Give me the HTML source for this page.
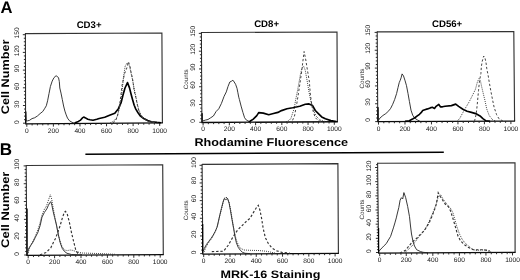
<!DOCTYPE html>
<html><head><meta charset="utf-8"><style>
html,body{margin:0;padding:0;background:#fff;}
body{width:520px;height:280px;overflow:hidden;}
svg{display:block;filter:blur(0.3px);}
text{font-family:"Liberation Sans", sans-serif;fill:#000;text-rendering:geometricPrecision;}
.big{font-size:16.6px;font-weight:bold;}
.ttl{font-size:9.6px;font-weight:bold;}
.ax{font-size:10.5px;font-weight:bold;}
.tl{font-size:6.6px;fill:#111;}
.ct{font-size:6.2px;fill:#222;}
</style></head><body>
<svg width="520" height="280" viewBox="0 0 520 280">
<rect width="520" height="280" fill="#fff"/>
<text x="0.6" y="12.9" class="big">A</text>
<text x="-0.3" y="155" class="big" style="font-size:17px">B</text>
<text x="76.7" y="28.4" class="ttl" textLength="24.8" lengthAdjust="spacingAndGlyphs">CD3+</text>
<text x="254.2" y="26.8" class="ttl" textLength="24.8" lengthAdjust="spacingAndGlyphs">CD8+</text>
<text x="432.0" y="26.5" class="ttl" textLength="30.2" lengthAdjust="spacingAndGlyphs">CD56+</text>
<text transform="translate(9.0,114.2) rotate(-90)" class="ax" style="font-size:11px" textLength="74.7" lengthAdjust="spacingAndGlyphs">Cell Number</text>
<text transform="translate(9.0,247.9) rotate(-90)" class="ax" style="font-size:11px" textLength="76.3" lengthAdjust="spacingAndGlyphs">Cell Number</text>
<text x="194.4" y="145.8" class="ax" style="font-size:11.2px" textLength="153.6" lengthAdjust="spacingAndGlyphs">Rhodamine Fluorescence</text>
<text x="220.5" y="277.8" class="ax" style="font-size:10.8px" textLength="100" lengthAdjust="spacingAndGlyphs">MRK-16 Staining</text>
<path d="M85.4,154.2 L443.8,152.2" stroke="#000" stroke-width="1.6" fill="none"/>
<path d="M25.4,33.6 L161.9,33.05 L162.4,122.9" stroke="#333" stroke-width="1.15" fill="none"/>
<path d="M25.4,33.1 L25.6,123.8" stroke="#2a2a2a" stroke-width="1.05" fill="none"/>
<path d="M25.1,123.8 L162.9,122.9" stroke="#0a0a0a" stroke-width="1.35" fill="none"/>
<path d="M23,123.2H25.6 M23.99,119.66H25.59 M23.98,116.12H25.58 M23.98,112.58H25.58 M23.97,109.04H25.57 M22.96,105.5H25.56 M23.95,101.96H25.55 M23.94,98.42H25.54 M23.94,94.88H25.54 M23.93,91.34H25.53 M22.92,87.8H25.52 M23.91,84.26H25.51 M23.9,80.72H25.5 M23.9,77.18H25.5 M23.89,73.64H25.49 M22.88,70.1H25.48 M23.87,66.56H25.47 M23.87,63.02H25.47 M23.86,59.48H25.46 M23.85,55.94H25.45 M22.84,52.4H25.44 M23.83,48.86H25.43 M23.83,45.32H25.43 M23.82,41.78H25.42 M23.81,38.24H25.41 M22.8,34.7H25.4 M26.8,123.79V126.79 M32.12,123.76V125.46 M37.43,123.72V125.42 M42.75,123.69V125.39 M48.06,123.65V125.35 M53.38,123.62V126.62 M58.7,123.58V125.28 M64.01,123.55V125.25 M69.33,123.51V125.21 M74.64,123.48V125.18 M79.96,123.44V126.44 M85.28,123.41V125.11 M90.59,123.37V125.07 M95.91,123.34V125.04 M101.22,123.3V125 M106.54,123.27V126.27 M111.86,123.23V124.93 M117.17,123.2V124.9 M122.49,123.16V124.86 M127.8,123.13V124.83 M133.12,123.09V126.09 M138.44,123.06V124.76 M143.75,123.02V124.72 M149.07,122.99V124.69 M154.38,122.95V124.65 M159.7,122.92V125.92" stroke="#222" stroke-width="0.95" fill="none"/>
<text x="26.8" y="133.35" class="tl" text-anchor="middle">0</text>
<text x="53.38" y="133.35" class="tl" text-anchor="middle">200</text>
<text x="79.96" y="133.35" class="tl" text-anchor="middle">400</text>
<text x="106.54" y="133.35" class="tl" text-anchor="middle">600</text>
<text x="133.12" y="133.35" class="tl" text-anchor="middle">800</text>
<text x="159.7" y="133.35" class="tl" text-anchor="middle">1000</text>
<text transform="translate(18.55,122.1) rotate(-90)" class="tl" text-anchor="middle">0</text>
<text transform="translate(18.55,104.26) rotate(-90)" class="tl" text-anchor="middle">30</text>
<text transform="translate(18.55,86.42) rotate(-90)" class="tl" text-anchor="middle">60</text>
<text transform="translate(18.55,68.58) rotate(-90)" class="tl" text-anchor="middle">90</text>
<text transform="translate(18.55,50.74) rotate(-90)" class="tl" text-anchor="middle">120</text>
<text transform="translate(18.55,32.9) rotate(-90)" class="tl" text-anchor="middle">150</text>
<path d="M25.8,111.5 L25.8,123.3" stroke="#000" stroke-width="1.2" fill="none"/>
<path d="M25.5,111.5 L26.2,121 L27.6,120.8 L29.4,120.4 L32,118.6 L34.7,117.75 L37.4,116 L40.1,113.6 L42.75,111.5 L44.5,108.8 L46.3,105.8 L47.6,100.8 L49,93.6 L50.4,86.5 L52.2,81.1 L54,77.6 L56.1,75.7 L58.5,77.6 L59.3,81.5 L59.8,88 L61,93.1 L62.3,99.5 L63.6,106 L64.9,111.1 L66.2,114.9 L67.5,118.1 L69.4,120.7 L72,122.3 L74.5,123.2" stroke="#222" stroke-width="0.9" fill="none"/>
<path d="M74.5,122.9 L78.4,121.4 L80.6,120.1 L82.4,117.9 L83.75,117.1 L85.5,117.9 L87.8,119.2 L90,119.8 L93,120.2 L96.8,119.3 L99.2,118.5 L104.7,117.3 L110.2,115.1 L114.8,113.2 L118.4,108.7 L121.2,102.3 L123,95 L125,88 L127.5,82.6 L129.5,87.9 L131.1,94.2 L132.6,99.7 L134.2,105.2 L135.8,109.1 L138.2,113 L140.5,116.2 L143.7,118.5 L147.6,120.6 L151.5,121.7 L157,122.4 L161,122.7" stroke="#000" stroke-width="1.65" fill="none" stroke-linejoin="round"/>
<path d="M113,123 L115.5,121 L117.5,116 L119.5,106 L121.4,91 L122.1,85 L123.6,78.6 L124.3,74.3 L126.4,69.3 L128.5,61.8 L130,66.4 L131,72 L132.4,78 L133.4,84.7 L134.2,91 L135.8,97.3 L137.4,105.2 L138.9,111.4 L141.3,116.2 L144.4,119.3 L148,121 L153,122.5 L158,123.2" stroke="#444" stroke-width="1" fill="none" stroke-dasharray="2.3,2"/>
<path d="M110,123 L114,121 L117,117 L119.5,108 L121.2,98 L122.4,88 L123.5,77 L125.2,66 L127.5,62.5 L129.5,66 L130.8,72 L132.6,80 L134,88 L135.5,95 L137,102.5 L138.6,109 L140.8,114.5 L143.6,118 L148,120.5 L155,122.5" stroke="#333" stroke-width="1" fill="none" stroke-dasharray="0.9,1.1"/>
<path d="M201.4,32.5 L337,32 L337.4,121.75" stroke="#333" stroke-width="1.15" fill="none"/>
<path d="M201.4,32 L201.9,122.5" stroke="#2a2a2a" stroke-width="1.05" fill="none"/>
<path d="M201.4,122.5 L337.9,121.75" stroke="#0a0a0a" stroke-width="1.35" fill="none"/>
<path d="M199.3,122.3H201.9 M200.28,118.74H201.88 M200.26,115.19H201.86 M200.24,111.63H201.84 M200.22,108.08H201.82 M199.2,104.52H201.8 M200.18,100.96H201.78 M200.16,97.41H201.76 M200.14,93.85H201.74 M200.12,90.3H201.72 M199.1,86.74H201.7 M200.08,83.18H201.68 M200.06,79.63H201.66 M200.04,76.07H201.64 M200.02,72.52H201.62 M199,68.96H201.6 M199.98,65.4H201.58 M199.96,61.85H201.56 M199.94,58.29H201.54 M199.92,54.74H201.52 M198.9,51.18H201.5 M199.88,47.62H201.48 M199.86,44.07H201.46 M199.84,40.51H201.44 M199.82,36.96H201.42 M198.81,33.4H201.41 M203.1,122.49V125.49 M208.35,122.46V124.16 M213.6,122.44V124.14 M218.84,122.41V124.11 M224.09,122.38V124.08 M229.34,122.35V125.35 M234.59,122.32V124.02 M239.84,122.29V123.99 M245.08,122.26V123.96 M250.33,122.23V123.93 M255.58,122.2V125.2 M260.83,122.17V123.87 M266.08,122.14V123.84 M271.32,122.12V123.82 M276.57,122.09V123.79 M281.82,122.06V125.06 M287.07,122.03V123.73 M292.32,122V123.7 M297.56,121.97V123.67 M302.81,121.94V123.64 M308.06,121.91V124.91 M313.31,121.88V123.58 M318.56,121.85V123.55 M323.8,121.83V123.53 M329.05,121.8V123.5 M334.3,121.77V124.77" stroke="#222" stroke-width="0.95" fill="none"/>
<text x="203.1" y="131.05" class="tl" text-anchor="middle">0</text>
<text x="229.34" y="131.05" class="tl" text-anchor="middle">200</text>
<text x="255.58" y="131.05" class="tl" text-anchor="middle">400</text>
<text x="281.82" y="131.05" class="tl" text-anchor="middle">600</text>
<text x="308.06" y="131.05" class="tl" text-anchor="middle">800</text>
<text x="334.3" y="131.05" class="tl" text-anchor="middle">1000</text>
<text transform="translate(194.85,121) rotate(-90)" class="tl" text-anchor="middle">0</text>
<text transform="translate(194.85,103.06) rotate(-90)" class="tl" text-anchor="middle">30</text>
<text transform="translate(194.85,85.12) rotate(-90)" class="tl" text-anchor="middle">60</text>
<text transform="translate(194.85,67.18) rotate(-90)" class="tl" text-anchor="middle">90</text>
<text transform="translate(194.85,49.24) rotate(-90)" class="tl" text-anchor="middle">120</text>
<text transform="translate(194.85,31.3) rotate(-90)" class="tl" text-anchor="middle">150</text>
<text transform="translate(187.5,79.3) rotate(-90)" class="ct" text-anchor="middle" textLength="20" lengthAdjust="spacingAndGlyphs">Counts</text>
<path d="M202.1,113.3 L202.1,122.3" stroke="#000" stroke-width="1.2" fill="none"/>
<path d="M202.1,113.3 L202.6,121 L205.4,120.1 L208,119.5 L210.7,117.75 L213.4,116 L216.1,111.5 L218.75,108.8 L221.4,103.5 L224.1,96.3 L226.3,91.9 L228,86.5 L229.8,82 L231.5,81.2 L232.9,80.2 L234.2,82 L235.6,84.3 L237,88.3 L237.9,92.75 L238.75,97.2 L239.4,99.5 L241.1,106.1 L242.9,112.4 L244.6,117.75 L246.4,120.1 L248.2,121 L250,121.9" stroke="#222" stroke-width="0.9" fill="none"/>
<path d="M248.7,121.8 L250,121.2 L253.3,119.1 L256.8,115.6 L258.7,112.6 L263.3,113.1 L268.75,114.7 L272.5,113.8 L277.9,112.4 L281.5,110.6 L287,108.7 L292.6,107.8 L299.8,106.3 L305.3,104.3 L309,103.9 L312.6,105.6 L315.3,110.5 L318.1,113.3 L321.7,116.9 L325.4,118.8 L330.9,120.6 L336.3,121.5" stroke="#000" stroke-width="1.65" fill="none" stroke-linejoin="round"/>
<path d="M289,122 L292,121.5 L294.5,116 L296.9,103 L298.5,93 L300,83 L301.6,72 L302.8,62 L304.1,51.5 L305.8,60 L307.4,70 L308.6,77 L309.3,81 L310.3,94 L312.3,108.3 L315.1,117.4 L318.1,120.5 L322,121.8" stroke="#444" stroke-width="1" fill="none" stroke-dasharray="2.3,2"/>
<path d="M286,121.8 L289,120.5 L290.9,118.4 L294.3,108 L295.4,101.2 L297.7,89.7 L298.9,82.9 L300.5,74 L302,68 L303.5,66 L305.2,70 L307,80 L309,92 L311,102 L313.5,110 L316,116 L320,120 L326,121.8" stroke="#333" stroke-width="1" fill="none" stroke-dasharray="0.9,1.1"/>
<path d="M377.2,31.8 L513.8,31.6 L514.6,121.1" stroke="#333" stroke-width="1.15" fill="none"/>
<path d="M377.2,31.3 L377.8,121.6" stroke="#2a2a2a" stroke-width="1.05" fill="none"/>
<path d="M377.3,121.6 L515.1,121.1" stroke="#0a0a0a" stroke-width="1.35" fill="none"/>
<path d="M375.2,121.6H377.8 M376.18,118.03H377.78 M376.15,114.46H377.75 M376.13,110.9H377.73 M376.1,107.33H377.7 M375.08,103.76H377.68 M376.06,100.19H377.66 M376.03,96.62H377.63 M376.01,93.06H377.61 M375.99,89.49H377.59 M374.96,85.92H377.56 M375.94,82.35H377.54 M375.91,78.78H377.51 M375.89,75.22H377.49 M375.87,71.65H377.47 M374.84,68.08H377.44 M375.82,64.51H377.42 M375.79,60.94H377.39 M375.77,57.38H377.37 M375.75,53.81H377.35 M374.72,50.24H377.32 M375.7,46.67H377.3 M375.68,43.1H377.28 M375.65,39.54H377.25 M375.63,35.97H377.23 M374.6,32.4H377.2 M378.5,121.6V124.6 M383.8,121.58V123.28 M389.09,121.56V123.26 M394.39,121.54V123.24 M399.68,121.52V123.22 M404.98,121.5V124.5 M410.28,121.48V123.18 M415.57,121.46V123.16 M420.87,121.44V123.14 M426.16,121.42V123.12 M431.46,121.4V124.4 M436.76,121.38V123.08 M442.05,121.37V123.07 M447.35,121.35V123.05 M452.64,121.33V123.03 M457.94,121.31V124.31 M463.24,121.29V122.99 M468.53,121.27V122.97 M473.83,121.25V122.95 M479.12,121.23V122.93 M484.42,121.21V124.21 M489.72,121.19V122.89 M495.01,121.17V122.87 M500.31,121.15V122.85 M505.6,121.13V122.83 M510.9,121.11V124.11" stroke="#222" stroke-width="0.95" fill="none"/>
<text x="378.5" y="130.85" class="tl" text-anchor="middle">0</text>
<text x="404.98" y="130.85" class="tl" text-anchor="middle">200</text>
<text x="431.46" y="130.85" class="tl" text-anchor="middle">400</text>
<text x="457.94" y="130.85" class="tl" text-anchor="middle">600</text>
<text x="484.42" y="130.85" class="tl" text-anchor="middle">800</text>
<text x="510.9" y="130.85" class="tl" text-anchor="middle">1000</text>
<text transform="translate(370.35,119.9) rotate(-90)" class="tl" text-anchor="middle">0</text>
<text transform="translate(370.35,101.98) rotate(-90)" class="tl" text-anchor="middle">30</text>
<text transform="translate(370.35,84.06) rotate(-90)" class="tl" text-anchor="middle">60</text>
<text transform="translate(370.35,66.14) rotate(-90)" class="tl" text-anchor="middle">90</text>
<text transform="translate(370.35,48.22) rotate(-90)" class="tl" text-anchor="middle">120</text>
<text transform="translate(370.35,30.3) rotate(-90)" class="tl" text-anchor="middle">150</text>
<text transform="translate(363.6,78.6) rotate(-90)" class="ct" text-anchor="middle" textLength="20" lengthAdjust="spacingAndGlyphs">Counts</text>
<path d="M378.0,107.3 L378.0,121.5" stroke="#000" stroke-width="1.2" fill="none"/>
<path d="M377.9,107.3 L378.4,120.5 L379.9,118.1 L382.9,115.5 L385.8,113.6 L388.8,110.8 L390.7,108.3 L392.7,104.3 L394.7,99.4 L396.6,93.5 L398,87.6 L399.2,82.7 L400,80.8 L401.1,77.8 L402.1,73.9 L403.5,75.9 L405.1,80.8 L406.5,85.7 L408,93.5 L409.4,101.4 L411,110.2 L412.7,115.2 L414.7,118.1 L417.3,119.9 L420,121.3" stroke="#222" stroke-width="0.9" fill="none"/>
<path d="M405,121.2 L409.3,120.7 L412.5,119.1 L415.2,117.5 L417.3,115.9 L419.5,114.3 L421.6,112.1 L422.7,110.5 L424.8,109.8 L427.5,108.9 L430.2,107.9 L432.3,107.3 L434.5,108.4 L436.1,106.3 L438.8,104.4 L440.4,106.8 L442.5,106.8 L445,106.3 L451.4,105.6 L455.7,104.1 L458.6,106.4 L462.9,109.3 L467.1,111.3 L471.4,112.4 L475.7,113.6 L480,115.9 L482.9,118.7 L485.7,120.7 L490,121.3" stroke="#000" stroke-width="1.65" fill="none" stroke-linejoin="round"/>
<path d="M474.5,121.2 L476,115 L476.8,108.9 L477.6,100.7 L478.5,90.8 L479.5,81 L480.9,73.5 L481.3,67.3 L482.1,61.8 L483.7,56 L485,58 L486,62.6 L486.8,68.8 L488.1,75.1 L489.2,82 L490.8,90.8 L492.4,99 L494.1,107.2 L496.6,114.7 L499,118.8 L503,121.1" stroke="#444" stroke-width="1" fill="none" stroke-dasharray="2.3,2"/>
<path d="M457,121.3 L459.7,118.5 L464.4,109.8 L469.1,102 L472.3,95.7 L475.4,89.4 L477.4,82 L479,78.5 L480.5,81 L481.5,86 L483.4,94.1 L485,100.7 L486.7,108.9 L489.2,115.5 L492.4,119.6 L496,121.2" stroke="#333" stroke-width="1" fill="none" stroke-dasharray="0.9,1.1"/>
<path d="M26.2,165.5 L162.7,164.75 L163.3,254.6" stroke="#333" stroke-width="1.15" fill="none"/>
<path d="M26.2,165 L26.8,255.4" stroke="#2a2a2a" stroke-width="1.05" fill="none"/>
<path d="M26.3,255.4 L163.8,254.6" stroke="#0a0a0a" stroke-width="1.35" fill="none"/>
<path d="M24.2,255H26.8 M25.17,251.44H26.77 M25.15,247.87H26.75 M25.13,244.31H26.73 M25.1,240.74H26.7 M24.08,237.18H26.68 M25.05,233.62H26.65 M25.03,230.05H26.63 M25.01,226.49H26.61 M24.98,222.92H26.58 M23.96,219.36H26.56 M24.94,215.8H26.54 M24.91,212.23H26.51 M24.89,208.67H26.49 M24.86,205.1H26.46 M23.84,201.54H26.44 M24.82,197.98H26.42 M24.79,194.41H26.39 M24.77,190.85H26.37 M24.75,187.28H26.35 M23.72,183.72H26.32 M24.7,180.16H26.3 M24.67,176.59H26.27 M24.65,173.03H26.25 M24.63,169.46H26.23 M23.6,165.9H26.2 M28.2,255.39V258.39 M33.48,255.36V257.06 M38.76,255.33V257.03 M44.04,255.3V257 M49.32,255.27V256.97 M54.6,255.24V258.24 M59.88,255.21V256.91 M65.16,255.18V256.88 M70.44,255.14V256.84 M75.72,255.11V256.81 M81,255.08V258.08 M86.28,255.05V256.75 M91.56,255.02V256.72 M96.84,254.99V256.69 M102.12,254.96V256.66 M107.4,254.93V257.93 M112.68,254.9V256.6 M117.96,254.87V256.57 M123.24,254.83V256.53 M128.52,254.8V256.5 M133.8,254.77V257.77 M139.08,254.74V256.44 M144.36,254.71V256.41 M149.64,254.68V256.38 M154.92,254.65V256.35 M160.2,254.62V257.62" stroke="#222" stroke-width="0.95" fill="none"/>
<text x="28.2" y="264.15" class="tl" text-anchor="middle">0</text>
<text x="54.6" y="264.15" class="tl" text-anchor="middle">200</text>
<text x="81" y="264.15" class="tl" text-anchor="middle">400</text>
<text x="107.4" y="264.15" class="tl" text-anchor="middle">600</text>
<text x="133.8" y="264.15" class="tl" text-anchor="middle">800</text>
<text x="160.2" y="264.15" class="tl" text-anchor="middle">1000</text>
<text transform="translate(19.45,254) rotate(-90)" class="tl" text-anchor="middle">0</text>
<text transform="translate(19.45,236.06) rotate(-90)" class="tl" text-anchor="middle">20</text>
<text transform="translate(19.45,218.12) rotate(-90)" class="tl" text-anchor="middle">40</text>
<text transform="translate(19.45,200.18) rotate(-90)" class="tl" text-anchor="middle">60</text>
<text transform="translate(19.45,182.24) rotate(-90)" class="tl" text-anchor="middle">80</text>
<text transform="translate(19.45,164.3) rotate(-90)" class="tl" text-anchor="middle">100</text>
<path d="M27.1,208.5 L27.1,255" stroke="#000" stroke-width="1.2" fill="none"/>
<path d="M27.5,254.2 L28.4,249 L30.7,245.4 L33.1,241.9 L35.4,237.2 L37.8,232.5 L40.2,225.4 L42,217.1 L44.4,212.4 L46.8,208.9 L48.4,205.3 L49.6,203 L50.8,201.6 L51.9,205.3 L53.1,211.2 L54.6,217.5 L56.5,225 L58.4,235 L60.3,243 L62.3,248.5 L64.5,251.5 L67,253.3 L71.6,254.5 L80,255" stroke="#222" stroke-width="0.9" fill="none"/>
<path d="M28,253 L30,247 L32.5,242 L35,237 L37.5,231 L40,223 L42,215 L44,210 L46.5,206 L48.5,200 L50.3,194.8 L51.7,199 L53,207 L54.5,215 L56,223 L58,233 L60,241 L62,246.5 L64.5,250 L67.4,250.6 L70,250 L73,250.4 L76,251.6 L82,253 L100,253.6 L115,254.3" stroke="#333" stroke-width="1" fill="none" stroke-dasharray="0.9,1.1"/>
<path d="M40,254.8 L46,252.5 L50.8,247.8 L53.1,243.1 L55.5,238.4 L57.8,232.5 L60.2,225.4 L62.6,217.1 L64.5,212 L65.5,211.3 L67.4,214.5 L69.5,222.8 L71.6,233.1 L73.6,241.4 L75.7,249.7 L77.8,253.4 L82,254.8" stroke="#333" stroke-width="1.15" fill="none" stroke-dasharray="2.4,1.9"/>
<path d="M202.1,164.4 L337.9,163.6 L338.4,253.4" stroke="#333" stroke-width="1.15" fill="none"/>
<path d="M202.1,163.9 L202.8,254.1" stroke="#2a2a2a" stroke-width="1.05" fill="none"/>
<path d="M202.3,254.1 L338.9,253.4" stroke="#0a0a0a" stroke-width="1.35" fill="none"/>
<path d="M200.2,253.6H202.8 M201.17,250.07H202.77 M201.14,246.54H202.74 M201.11,243H202.71 M201.09,239.47H202.69 M200.06,235.94H202.66 M201.03,232.41H202.63 M201,228.88H202.6 M200.98,225.34H202.58 M200.95,221.81H202.55 M199.92,218.28H202.52 M200.89,214.75H202.49 M200.87,211.22H202.47 M200.84,207.68H202.44 M200.81,204.15H202.41 M199.78,200.62H202.38 M200.76,197.09H202.36 M200.73,193.56H202.33 M200.7,190.02H202.3 M200.67,186.49H202.27 M199.64,182.96H202.24 M200.62,179.43H202.22 M200.59,175.9H202.19 M200.56,172.36H202.16 M200.53,168.83H202.13 M199.51,165.3H202.11 M203.7,254.1V257.1 M208.96,254.07V255.77 M214.21,254.04V255.74 M219.47,254.01V255.71 M224.72,253.99V255.69 M229.98,253.96V256.96 M235.24,253.93V255.63 M240.49,253.91V255.61 M245.75,253.88V255.58 M251,253.85V255.55 M256.26,253.82V256.82 M261.52,253.8V255.5 M266.77,253.77V255.47 M272.03,253.74V255.44 M277.28,253.72V255.42 M282.54,253.69V256.69 M287.8,253.66V255.36 M293.05,253.63V255.33 M298.31,253.61V255.31 M303.56,253.58V255.28 M308.82,253.55V256.55 M314.08,253.53V255.23 M319.33,253.5V255.2 M324.59,253.47V255.17 M329.84,253.44V255.14 M335.1,253.42V256.42" stroke="#222" stroke-width="0.95" fill="none"/>
<text x="203.7" y="262.55" class="tl" text-anchor="middle">0</text>
<text x="229.98" y="262.55" class="tl" text-anchor="middle">200</text>
<text x="256.26" y="262.55" class="tl" text-anchor="middle">400</text>
<text x="282.54" y="262.55" class="tl" text-anchor="middle">600</text>
<text x="308.82" y="262.55" class="tl" text-anchor="middle">800</text>
<text x="335.1" y="262.55" class="tl" text-anchor="middle">1000</text>
<text transform="translate(195.65,252.3) rotate(-90)" class="tl" text-anchor="middle">0</text>
<text transform="translate(195.65,234.36) rotate(-90)" class="tl" text-anchor="middle">20</text>
<text transform="translate(195.65,216.42) rotate(-90)" class="tl" text-anchor="middle">40</text>
<text transform="translate(195.65,198.48) rotate(-90)" class="tl" text-anchor="middle">60</text>
<text transform="translate(195.65,180.54) rotate(-90)" class="tl" text-anchor="middle">80</text>
<text transform="translate(195.65,162.6) rotate(-90)" class="tl" text-anchor="middle">100</text>
<text transform="translate(188.1,210.3) rotate(-90)" class="ct" text-anchor="middle" textLength="20" lengthAdjust="spacingAndGlyphs">Counts</text>
<path d="M202.7,224 L202.7,253.5" stroke="#000" stroke-width="1.2" fill="none"/>
<path d="M203.3,251 L204.3,248.4 L206.5,244.4 L208.8,241.3 L211,238.4 L213.2,235.1 L215.4,231.1 L217,227.3 L218.3,221.8 L219.8,215.1 L221.4,208.5 L223.1,201.9 L224.3,198.5 L225.8,199.6 L227.6,198.5 L229.1,203 L230.5,210.7 L232,219.6 L233.6,228.4 L234.9,236.2 L236.4,242.8 L238.2,247.3 L240.4,250.4 L242.5,252.3 L245,253.3 L250,253.6" stroke="#222" stroke-width="0.9" fill="none"/>
<path d="M204,252 L206,247 L209,242 L212,238 L215,232 L217.5,226 L219.5,217 L221.5,209 L223.5,201 L225,197.5 L227,197.5 L229,202 L230.5,209 L232,218 L233.5,227 L235,235 L237,242 L240,248 L244,250 L250,250.3 L258,250.5 L266,251.2 L275,253" stroke="#333" stroke-width="1" fill="none" stroke-dasharray="0.9,1.1"/>
<path d="M211.8,251.6 L223.5,251.2 L228.2,245.3 L232.9,237.1 L237.6,230 L242.4,225.3 L247.1,220.6 L250,218.3 L253.5,212.4 L257.1,206.5 L258.3,205.3 L259.9,210 L261.6,218.3 L263.2,228.5 L265.3,237.5 L268.3,243.5 L272,248 L276.5,250.8 L282,252.4 L290,253.2" stroke="#333" stroke-width="1.15" fill="none" stroke-dasharray="2.4,1.9"/>
<path d="M377.6,163.2 L515,162.9 L515.1,252.4" stroke="#333" stroke-width="1.15" fill="none"/>
<path d="M377.6,162.7 L378.6,253.2" stroke="#2a2a2a" stroke-width="1.05" fill="none"/>
<path d="M378.1,253.2 L515.6,252.4" stroke="#0a0a0a" stroke-width="1.35" fill="none"/>
<path d="M375.99,252.5H378.59 M376.96,249.67H378.56 M376.93,246.83H378.53 M376.9,244H378.5 M376.87,241.17H378.47 M375.83,238.33H378.43 M376.8,235.5H378.4 M376.77,232.67H378.37 M376.74,229.83H378.34 M376.71,227H378.31 M375.68,224.17H378.28 M376.65,221.33H378.25 M376.61,218.5H378.21 M376.58,215.67H378.18 M376.55,212.83H378.15 M375.52,210H378.12 M376.49,207.17H378.09 M376.46,204.33H378.06 M376.43,201.5H378.03 M376.39,198.67H377.99 M375.36,195.83H377.96 M376.33,193H377.93 M376.3,190.17H377.9 M376.27,187.33H377.87 M376.24,184.5H377.84 M375.21,181.67H377.81 M376.17,178.83H377.77 M376.14,176H377.74 M376.11,173.17H377.71 M376.08,170.33H377.68 M375.05,167.5H377.65 M376.02,164.67H377.62 M379.7,253.19V256.19 M385.01,253.16V254.86 M390.32,253.13V254.83 M395.64,253.1V254.8 M400.95,253.07V254.77 M406.26,253.04V256.04 M411.57,253.01V254.71 M416.88,252.98V254.68 M422.2,252.94V254.64 M427.51,252.91V254.61 M432.82,252.88V255.88 M438.13,252.85V254.55 M443.44,252.82V254.52 M448.76,252.79V254.49 M454.07,252.76V254.46 M459.38,252.73V255.73 M464.69,252.7V254.4 M470,252.66V254.36 M475.32,252.63V254.33 M480.63,252.6V254.3 M485.94,252.57V255.57 M491.25,252.54V254.24 M496.56,252.51V254.21 M501.88,252.48V254.18 M507.19,252.45V254.15 M512.5,252.42V255.42" stroke="#222" stroke-width="0.95" fill="none"/>
<text x="379.7" y="262.35" class="tl" text-anchor="middle">0</text>
<text x="406.26" y="262.35" class="tl" text-anchor="middle">200</text>
<text x="432.82" y="262.35" class="tl" text-anchor="middle">400</text>
<text x="459.38" y="262.35" class="tl" text-anchor="middle">600</text>
<text x="485.94" y="262.35" class="tl" text-anchor="middle">800</text>
<text x="512.5" y="262.35" class="tl" text-anchor="middle">1000</text>
<text transform="translate(371.25,251.1) rotate(-90)" class="tl" text-anchor="middle">0</text>
<text transform="translate(371.25,236.93) rotate(-90)" class="tl" text-anchor="middle">20</text>
<text transform="translate(371.25,222.77) rotate(-90)" class="tl" text-anchor="middle">40</text>
<text transform="translate(371.25,208.6) rotate(-90)" class="tl" text-anchor="middle">60</text>
<text transform="translate(371.25,194.43) rotate(-90)" class="tl" text-anchor="middle">80</text>
<text transform="translate(371.25,180.27) rotate(-90)" class="tl" text-anchor="middle">100</text>
<text transform="translate(371.25,166.1) rotate(-90)" class="tl" text-anchor="middle">120</text>
<text transform="translate(364,209.6) rotate(-90)" class="ct" text-anchor="middle" textLength="20" lengthAdjust="spacingAndGlyphs">Counts</text>
<path d="M378.6,228 L378.6,253" stroke="#000" stroke-width="1.2" fill="none"/>
<path d="M379,251.5 L379.9,250 L382,247.9 L384.1,245.7 L386.3,243.6 L388.4,240 L390.6,236.4 L392,232.1 L393.4,227.9 L394.9,222.9 L396.3,217.9 L397.2,214 L398.8,207.5 L400.1,200.2 L401.4,197.7 L402.7,199 L403.9,192.6 L405.7,197.7 L407.7,206.6 L409.5,216.7 L410.5,226 L411.5,234 L413,241.5 L414.5,246 L416.6,249.7 L420.4,251.5 L423,252.3 L428,252.8" stroke="#222" stroke-width="0.9" fill="none"/>
<path d="M405,252.5 L412,246 L418,238 L424,231 L428,224 L431,217 L434,210 L436.5,203 L438.5,196 L440.5,194.5 L443,199 L446,203 L448.5,206 L451,209 L453,213 L455,220 L457,227 L459.5,234 L462,239 L465,243 L468.5,246 L472,249 L476,250.5 L481,250 L486,250 L492,252.5" stroke="#333" stroke-width="1" fill="none" stroke-dasharray="0.9,1.1"/>
<path d="M400,253 L405.2,250.5 L407.7,247.5 L411.5,243 L414,240.5 L416.6,238.3 L420.4,234.4 L424.2,230.6 L426.7,226.8 L429.3,222.5 L431.8,216.7 L434.3,210.4 L436.4,204 L438.2,192.8 L440.2,196.4 L442.7,200.2 L445.2,204 L448.3,206.6 L450.3,210.4 L452.8,218 L455.4,226.9 L457.9,235.8 L460.5,240.8 L464.3,244.6 L468.1,247.2 L473.1,249.7 L483.3,249.7 L490,251" stroke="#333" stroke-width="1.15" fill="none" stroke-dasharray="2.4,1.9"/>
</svg>
</body></html>
